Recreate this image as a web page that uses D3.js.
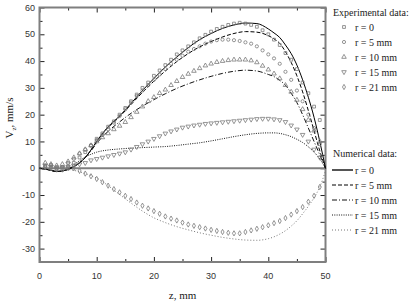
<html lang="en">
    <head>
        <title>Vz profiles</title>
        <meta charset="utf-8">
        <script src="https://d3js.org/d3.v7.min.js"></script>
        <style>
            body { margin: 0; background: #fff; }
            .tick-label { font-family: "Liberation Sans", Arial, sans-serif; font-size: 9px; fill: #333; }
            .serif { font-family: "Liberation Serif", "Times New Roman", serif; fill: #222; }
        </style>
    </head>
    <body>
        <svg width="415" height="305"></svg>
        <script>
            // numerical z grid (mm) and velocity curves (mm/s)
            var zNum = [0,1,2,3,4,5,6,7,8,9,10,12,14,16,18,20,22,24,26,28,30,32,34,36,38,40,41,42,43,44,45,46,47,48,49,50];
            var numR0  = [0,-0.3,-0.8,-1.2,-1,-0.4,0.6,2,4,6.8,10,15.5,19.5,24.2,29,33.5,37.8,41.5,45,48,50.3,52.2,53.5,54.2,54,52,50.5,48.8,46,42.8,38.5,33,26.5,19,10,0];
            var numR5  = [0,-0.3,-0.8,-1.2,-1,-0.4,0.6,2,4,6.8,10,15.2,19.2,23.8,28.3,32.5,36.3,39.8,42.8,45.3,47.3,49,50.3,51,50.8,49.5,48.3,46.6,43.5,39.5,34.5,28.5,21.5,14,6.5,0];
            var numR10 = [0,-0.3,-0.8,-1.2,-1,-0.4,0.6,2,4,6.5,9.3,13.8,17.3,20.5,23.2,25.6,27.8,29.8,31.5,33,34.3,35.4,36.2,36.6,36.3,35,34.2,32.8,31,28,24.5,20,15,10,5,0];
            var numR15 = [0,-0.3,-0.8,-1.2,-1,-0.3,1.3,2.8,4.2,5.2,6,6.8,7.2,7.5,7.7,7.9,8.1,8.5,9,9.5,10.2,11,11.8,12.5,13,13.2,13.2,13,12.5,11.8,10.8,9.6,8,6,3.5,0];
            var numR21 = [0,-0.2,-0.6,-0.9,-0.8,-0.5,-0.8,-1.3,-2,-2.8,-3.7,-6.5,-9.8,-13,-16,-18.5,-20.3,-21.8,-23,-24.1,-25,-25.8,-26.4,-26.8,-26.9,-26.3,-25.6,-24.6,-23.3,-21.6,-19.6,-17,-14.2,-11,-7,-1];

            // experimental z (mm) and measured velocities (mm/s)
            var zExp = [1,2,3,4,5,6,7,8,9,10,11,12,13,14,15,16,17,18,19,20,21,22,23,24,25,26,27,28,29,30,31,32,33,34,35,36,37,38,39,40,41,42,43,44,45,46,47,48,49];
            var expR0  = [1,1.2,0.5,0.3,0.8,2,4,6,8.5,11,13,15.5,17.5,20,22.5,25,27.5,30,32,34.5,36.5,38.5,40.5,42.5,44,45.5,47,48.5,49.8,51,52,52.8,53.5,54,54.3,54,53.5,52.8,51.5,50,48,46,43,40.5,37,32,28,23,18];
            var expR5  = [0.5,1,0,0.5,2,3.5,5.5,7,8.5,10.5,12.5,14.5,17,19.5,22,24.5,27,29,31,33,35,37,39,40.5,42,43.5,44.5,45.5,46.5,47.3,47.8,48,48,47.8,47.5,47,46.5,45.5,44,42.5,41,39,36,33,29,25,20,15,9];
            var expR10 = [2,1.5,1,1.5,2.5,4,5.5,7,8.5,10,11.5,13,14.5,15.8,17.2,19,21,23,25,26.5,28,29.3,31,32.5,34,35.2,36.3,37.3,38.3,39,39.6,40,40.3,40.5,40.5,40.5,40.2,39.5,38.2,36.8,35.3,33.5,31,28.5,25.5,22,18,14,10];
            var expR15 = [1,0.5,0,0.2,0.5,1,1.5,2,3,3.5,4,4.5,5,5.5,6,7,8,9,10,11,12,13,13.8,14.5,15.2,15.6,16,16.3,16.6,16.8,17,17.2,17.4,17.6,17.8,18,18.2,18.4,18.5,18.5,18.3,18,17.3,16,14.5,12.5,10,7,4];
            var expR21 = [0.5,0,-0.5,-0.5,0,0,-1,-2,-3,-4,-5.2,-6.5,-7.8,-9,-10.3,-11.5,-12.8,-14,-15,-16,-17,-18,-18.8,-19.5,-20.3,-21,-21.5,-22,-22.5,-23,-23.4,-23.8,-24.1,-24.3,-24.3,-23.8,-23.2,-22.6,-22,-21.3,-20.5,-19.7,-18.6,-17.3,-16,-14.5,-12.5,-10.3,-7];

            var radii = ["r = 0", "r = 5 mm", "r = 10 mm", "r = 15 mm", "r = 21 mm"];
            var xTicks = [0, 10, 20, 30, 40, 50];
            var yTicks = [-30, -20, -10, 0, 10, 20, 30, 40, 50, 60];

            var svg = d3.select("svg");
            var x = d3.scaleLinear().domain([0, 50]).range([39.5, 325.5]);
            var y = d3.scaleLinear().domain([-35, 60]).range([262, 7.5]);
            var axisCol = "#7f7f7f";

            // frame with ticks on all four sides (ticks point inward)
            function frame(axis, tr, vals, len) {
                var g = svg.append("g").attr("transform", tr)
                    .call(axis.tickValues(vals).tickSize(len).tickFormat(""));
                g.select(".domain").remove();
                g.selectAll("line").attr("stroke", "#222").attr("stroke-width", 1);
                return g;
            }
            var xMaj = xTicks, xMin = [5, 15, 25, 35, 45];
            var yMaj = yTicks, yMin = [-35, -25, -15, -5, 5, 15, 25, 35, 45, 55];
            frame(d3.axisTop(x), "translate(0,262)", xMaj, 5);
            frame(d3.axisTop(x), "translate(0,262)", xMin, 3);
            frame(d3.axisBottom(x), "translate(0,7.5)", xMaj, 5);
            frame(d3.axisBottom(x), "translate(0,7.5)", xMin, 3);
            frame(d3.axisRight(y), "translate(39.5,0)", yMaj, 5);
            frame(d3.axisRight(y), "translate(39.5,0)", yMin, 3);
            frame(d3.axisLeft(y), "translate(325.5,0)", yMaj, 5);
            frame(d3.axisLeft(y), "translate(325.5,0)", yMin, 3);

            svg.append("rect")
                .attr("x", 39.5).attr("y", 7.5)
                .attr("width", 286).attr("height", 254.5)
                .attr("fill", "none").attr("stroke", axisCol).attr("stroke-width", 2);

            // tick labels
            svg.selectAll(".xl").data(xTicks).enter().append("text")
                .attr("class", "tick-label")
                .attr("x", function(d) { return x(d); })
                .attr("y", 279)
                .attr("text-anchor", "middle")
                .text(function(d) { return d; });
            svg.selectAll(".yl").data(yTicks).enter().append("text")
                .attr("class", "tick-label")
                .attr("x", 35)
                .attr("y", function(d) { return y(d) + 3.2; })
                .attr("text-anchor", "end")
                .text(function(d) { return d; });

            // zero line
            svg.append("line")
                .attr("x1", x(0)).attr("x2", x(50))
                .attr("y1", y(0)).attr("y2", y(0))
                .attr("stroke", axisCol).attr("stroke-width", 2);

            // axis titles
            svg.append("text").attr("class", "serif")
                .attr("x", x(25)).attr("y", 299)
                .attr("text-anchor", "middle").style("font-size", "11px")
                .text("z, mm");
            var yt = svg.append("text").attr("class", "serif")
                .attr("transform", "translate(13,118) rotate(-90)")
                .attr("text-anchor", "middle").style("font-size", "11px");
            yt.append("tspan").text("V");
            yt.append("tspan").attr("dy", 3).style("font-size", "7px").text("z");
            yt.append("tspan").attr("dy", -3).text(",  mm/s");

            // numerical curves
            var numSeries = [numR0, numR5, numR10, numR15, numR21];
            var numStyle = [
                { dash: null, col: "#000", w: 1 },
                { dash: "4,2", col: "#000", w: 1 },
                { dash: "5,2,1,2", col: "#111", w: 1 },
                { dash: "1,1.3", col: "#111", w: 1 },
                { dash: "1,2", col: "#777", w: 1 }
            ];
            var line = d3.line()
                .x(function(d) { return x(d[0]); })
                .y(function(d) { return y(d[1]); })
                .curve(d3.curveMonotoneX);
            numSeries.forEach(function(s, i) {
                svg.append("path")
                    .datum(zNum.map(function(z, j) { return [z, s[j]]; }))
                    .attr("fill", "none")
                    .attr("stroke", numStyle[i].col)
                    .attr("stroke-width", numStyle[i].w)
                    .attr("stroke-dasharray", numStyle[i].dash)
                    .attr("d", line);
            });

            // experimental markers
            var expSeries = [expR0, expR5, expR10, expR15, expR21];
            var shapes = [
                { t: d3.symbolSquare, s: 8, rot: 0 },
                { t: d3.symbolCircle, s: 8, rot: 0 },
                { t: d3.symbolTriangle, s: 9, rot: 0 },
                { t: d3.symbolTriangle, s: 9, rot: 180 },
                { t: d3.symbolDiamond, s: 8, rot: 0 }
            ];
            function marker(g, k, cx, cy) {
                g.append("path")
                    .attr("d", d3.symbol().type(shapes[k].t).size(shapes[k].s)())
                    .attr("transform", "translate(" + cx + "," + cy + ") rotate(" + shapes[k].rot + ")")
                    .attr("fill", "none")
                    .attr("stroke", "#7a7a7a")
                    .attr("stroke-width", 0.8);
            }
            var mg = svg.append("g");
            expSeries.forEach(function(s, k) {
                s.forEach(function(v, j) { marker(mg, k, x(zExp[j]), y(v)); });
            });

            // legend
            var lg = svg.append("g").attr("class", "serif").style("font-size", "10px");
            lg.append("text").attr("x", 333).attr("y", 16).text("Experimental data:");
            radii.forEach(function(r, i) {
                var cy = 27 + i * 15;
                marker(lg, i, 344, cy);
                lg.append("text").attr("x", 355).attr("y", cy + 3.5).text(r);
            });
            lg.append("text").attr("x", 333).attr("y", 157).text("Numerical data:");
            radii.forEach(function(r, i) {
                var cy = 170 + i * 15;
                lg.append("line")
                    .attr("x1", 332).attr("x2", 353)
                    .attr("y1", cy).attr("y2", cy)
                    .attr("stroke", i === 0 ? "#555" : numStyle[i].col)
                    .attr("stroke-width", i === 0 ? 2 : 1)
                    .attr("stroke-dasharray", numStyle[i].dash);
                lg.append("text").attr("x", 355).attr("y", cy + 3.5).text(r);
            });
        </script>
    </body>
</html>
